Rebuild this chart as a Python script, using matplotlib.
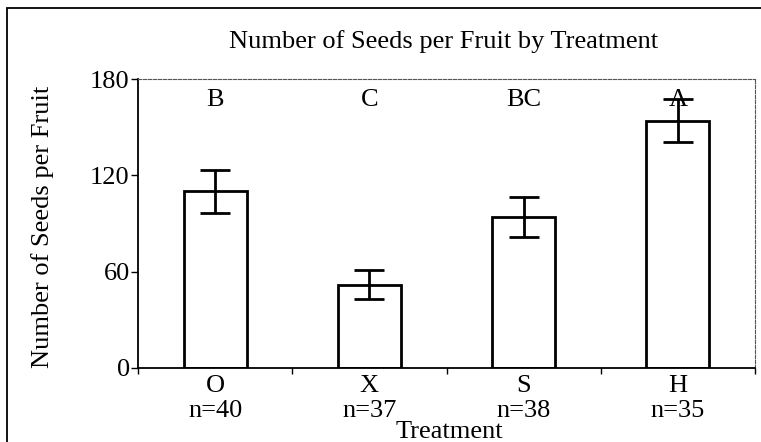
#Seeds per fruit by treatment
#bar chart with error bars and letter groups
import matplotlib.pyplot as plt
from matplotlib.patches import Rectangle

treatments = ['O', 'X', 'S', 'H']
counts = ['n=40', 'n=37', 'n=38', 'n=35']
means = [110, 52, 94, 154]
errors = [13.5, 9, 12.5, 13.5]
groups = ['B', 'C', 'BC', 'A']

plt.rcParams['font.family'] = ['Liberation Serif', 'DejaVu Serif']
fs = 19

fig = plt.figure(figsize=(7.61, 4.42), dpi=100)
ax = fig.add_axes([138/761, 1-368/442, (755-138)/761, (368-79)/442])

x = list(range(len(treatments)))
ax.bar(x, means, width=0.41, color='white', edgecolor='black', linewidth=2, zorder=2)
ax.errorbar(x, means, yerr=errors, fmt='none', ecolor='black', elinewidth=2,
            capsize=11, capthick=2, zorder=3)

for i, g in enumerate(groups):
    ax.text(i, 167, g, ha='center', va='center', fontsize=fs)

ax.set_xlim(-0.5, 3.5)
ax.set_ylim(0, 180)
ax.set_yticks([0, 60, 120, 180])
ax.tick_params(axis='y', labelsize=fs, length=5, width=1, pad=1)
ax.set_xticks([-0.5, 0.5, 1.5, 2.5, 3.5])
ax.set_xticklabels([])
ax.tick_params(axis='x', length=4, width=1)
for i, (t, n) in enumerate(zip(treatments, counts)):
    ax.text(i, -11.5, t, ha='center', va='center', fontsize=fs, clip_on=False)
    ax.text(i, -26.5, n, ha='center', va='center', fontsize=fs, clip_on=False)

for s in ['left', 'bottom']:
    ax.spines[s].set_linewidth(1.3)
for s in ['top', 'right']:
    ax.spines[s].set_linestyle((0, (3, 1.5)))
    ax.spines[s].set_linewidth(0.8)
    ax.spines[s].set_color('#555555')

ax.set_ylabel('Number of Seeds per Fruit', fontsize=fs, va='center')
ax.yaxis.set_label_coords(-0.154, 0.49)
ax.set_xlabel('Treatment', fontsize=fs, va='center')
ax.xaxis.set_label_coords(0.505, -0.222)
fig.text(444/761, 1-42/442, 'Number of Seeds per Fruit by Treatment',
         ha='center', va='center', fontsize=fs)

# outer frame of the figure
fig.add_artist(Rectangle((7/761, -0.1), 1.2, 1.1-8/442, transform=fig.transFigure,
                         fill=False, edgecolor='black', linewidth=1.3))

plt.savefig('out.png', dpi=100)
